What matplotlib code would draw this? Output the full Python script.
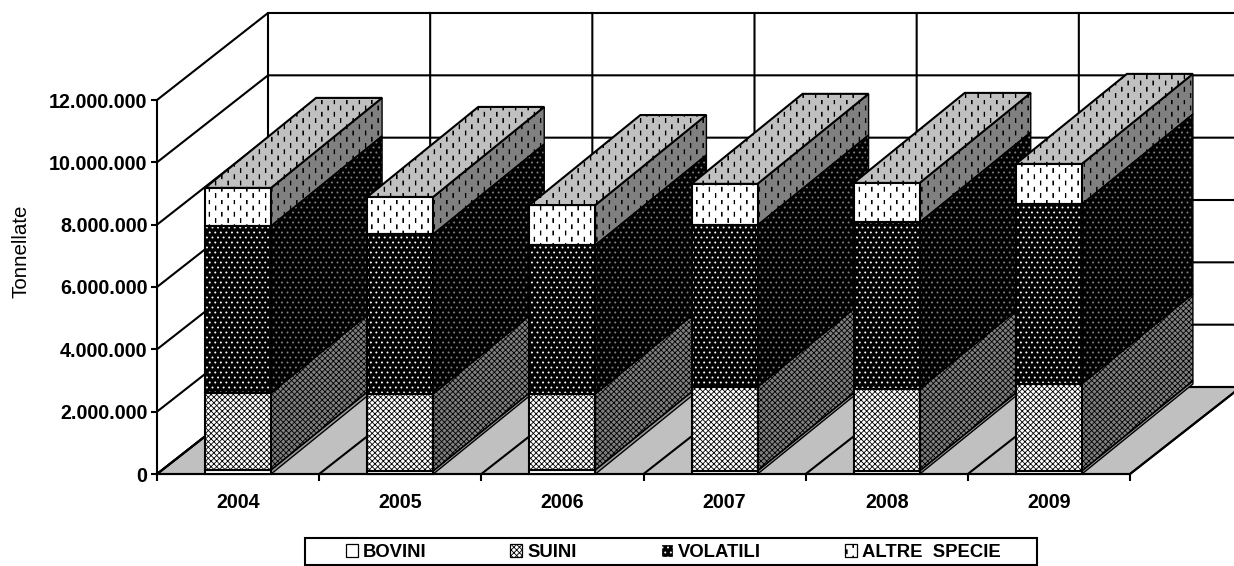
import numpy as np
import matplotlib
matplotlib.use("Agg")
import matplotlib.pyplot as plt
import matplotlib.hatch as mh
from matplotlib.patches import Patch, Polygon, Rectangle
from matplotlib.path import Path
from matplotlib.ticker import FuncFormatter

years = ["2004", "2005", "2006", "2007", "2008", "2009"]
bovini = [130000, 100000, 130000, 100000, 100000, 100000]
suini = [2470000, 2470000, 2440000, 2690000, 2630000, 2790000]
volatili = [5360000, 5130000, 4780000, 5200000, 5350000, 5770000]
altre = [1220000, 1190000, 1280000, 1320000, 1260000, 1290000]
series_names = ["BOVINI", "SUINI", "VOLATILI", "ALTRE  SPECIE"]
y_ticks = [0, 2000000, 4000000, 6000000, 8000000, 10000000, 12000000]


class DashHatch(mh.HatchPatternBase):
    cols, rows, length, half = 16, 8, 0.04, 0.0025

    def __init__(self, hatch, density):
        self.on = hatch.count("*") > 0
        self.num_vertices = self.cols * self.rows * 5 if self.on else 0
        self.num_codes = self.num_vertices

    def set_vertices_and_codes(self, vertices, codes):
        k = 0
        w = self.half
        for c in range(self.cols):
            for r in range(self.rows):
                x = (c + 0.5) / self.cols
                y = (r + 0.2 + (0.5 if c % 2 else 0.0)) / self.rows
                vertices[k:k + 5] = [(x - w, y), (x + w, y), (x + w, y + self.length),
                                     (x - w, y + self.length), (x - w, y)]
                codes[k:k + 5] = [Path.MOVETO, Path.LINETO, Path.LINETO,
                                  Path.LINETO, Path.CLOSEPOLY]
                k += 5


class DotHatch(mh.HatchPatternBase):
    cols, rows, radius = 18, 20, 0.006

    def __init__(self, hatch, density):
        self.on = hatch.count("O") > 0
        self.shape = Path.unit_regular_polygon(8)
        n = len(self.shape.vertices)
        self.num_vertices = self.cols * self.rows * n if self.on else 0
        self.num_codes = self.num_vertices

    def set_vertices_and_codes(self, vertices, codes):
        n = len(self.shape.vertices)
        k = 0
        for j in range(self.rows):
            for i in range(self.cols):
                x = (i + 0.25 + (0.5 if j % 2 else 0.0)) / self.cols
                y = (j + 0.5) / self.rows
                vertices[k:k + n] = self.shape.vertices * self.radius + (x, y)
                codes[k:k + n] = self.shape.codes
                k += n


mh._hatch_types = [t for t in mh._hatch_types
                   if t not in (mh.Stars, mh.LargeCircles)] + [DashHatch, DotHatch]

plt.rcParams["font.family"] = ["Liberation Sans", "DejaVu Sans"]
plt.rcParams["hatch.linewidth"] = 0.6
FS = 14.2
FS_LEG = 13.3
LW = 1.5

W, H = 1234, 566
fig = plt.figure(figsize=(W / 100, H / 100), dpi=100)
ax = fig.add_axes([157 / W, 1 - 474 / H, (1130 - 157) / W, (474 - 100) / H])
ax.set_xlim(0, 6)
ax.set_ylim(0, 12000000)

# oblique depth projection, in data units
DX = 111 / ((1130 - 157) / 6)
DY = 87 / ((474 - 100) / 12000000)
BAR_DY = 90 / ((474 - 100) / 12000000)


def poly(points, **kw):
    p = Polygon(points, closed=True, clip_on=False, **kw)
    ax.add_patch(p)
    return p


n_cat = len(years)
top = y_ticks[-1]
poly([(0, 0), (n_cat, 0), (n_cat + DX, DY), (DX, DY)], facecolor="#c0c0c0",
     edgecolor="black", linewidth=LW, zorder=1)
for v in y_ticks:
    ax.plot([0, DX, n_cat + DX], [v, v + DY, v + DY], color="black", lw=LW,
            clip_on=False, zorder=1.2, solid_joinstyle="miter")
for c in range(n_cat + 1):
    ax.plot([c, c + DX, c + DX], [0, DY, top + DY], color="black", lw=LW,
            clip_on=False, zorder=1.2)

# face, hatch colour, hatch for each series: front, side; then top of the stack
front = [("white", "black", None), ("white", "black", "xxxxxx"),
         ("black", "white", "O"), ("white", "black", "*")]
side = [("#999999", "black", None), ("#808080", "black", "xxxxxx"),
        ("black", "#808080", "O"), ("#808080", "black", "*")]
top_face = ("#c0c0c0", "black", "*")

stack = [bovini, suini, volatili, altre]
x = np.arange(n_cat) + 0.5
width = 66 / ((1130 - 157) / 6)
for i in range(n_cat):
    z = 10 + i
    xl, xr = x[i] - width / 2, x[i] + width / 2
    base = 0
    for s, vals in enumerate(stack):
        h = vals[i]
        f = side[s]
        pts = [(xr, base), (xr + DX, base + BAR_DY),
               (xr + DX, base + h + BAR_DY), (xr, base + h)]
        poly(pts, facecolor=f[0], edgecolor=f[1], hatch=f[2], linewidth=0, zorder=z)
        poly(pts, fill=False, edgecolor="black", linewidth=1.0, zorder=z + 0.1)
        f = front[s]
        ax.bar(x[i], h, width, bottom=base, color=f[0], edgecolor=f[1], hatch=f[2],
               linewidth=0, zorder=z + 0.2, clip_on=False)
        ax.bar(x[i], h, width, bottom=base, fill=False, edgecolor="black", linewidth=LW,
               zorder=z + 0.3, clip_on=False)
        base += h
    pts = [(xl, base), (xr, base), (xr + DX, base + BAR_DY), (xl + DX, base + BAR_DY)]
    poly(pts, facecolor=top_face[0], edgecolor=top_face[1], hatch=top_face[2],
         linewidth=0, zorder=z + 0.4)
    poly(pts, fill=False, edgecolor="black", linewidth=LW, zorder=z + 0.5)

for name in ("top", "right"):
    ax.spines[name].set_visible(False)
for name in ("left", "bottom"):
    ax.spines[name].set_linewidth(LW)
    ax.spines[name].set_zorder(9)

ax.set_yticks(y_ticks)
ax.yaxis.set_major_formatter(FuncFormatter(lambda v, _: f"{v:,.0f}".replace(",", ".")))
ax.set_xticks(np.arange(n_cat + 1))
ax.set_xticklabels([])
ax.set_xticks(x, minor=True)
ax.set_xticklabels(years, minor=True, fontsize=FS, fontweight="bold")
ax.tick_params(axis="x", which="minor", length=0, pad=14)
ax.tick_params(axis="x", which="major", length=5, width=LW)
ax.tick_params(axis="y", which="major", length=4.3, width=LW, pad=2.5)
for t in ax.get_yticklabels():
    t.set_fontsize(FS)
    t.set_fontweight("bold")

fig.text(21 / W, 1 - 251 / H, "Tonnellate", rotation=90, ha="center", va="center", fontsize=14.8)

fig.add_artist(Rectangle((305 / W, 1 - 565 / H), (1037 - 305) / W, (565 - 537.5) / H,
                         transform=fig.transFigure, fill=False, edgecolor="black",
                         linewidth=LW))
handles = [Patch(facecolor=front[k][0], edgecolor=front[k][1], hatch=front[k][2],
                 linewidth=0.9) for k in range(4)]
fig.legend(handles, series_names, loc="center", bbox_to_anchor=(673 / W, 1 - 552.5 / H),
           ncol=4, frameon=False, prop={"size": FS_LEG, "weight": "bold"}, columnspacing=4.55,
           handlelength=0.65, handleheight=0.65, handletextpad=0.27, borderpad=0)

fig.savefig("out.png", dpi=100)
